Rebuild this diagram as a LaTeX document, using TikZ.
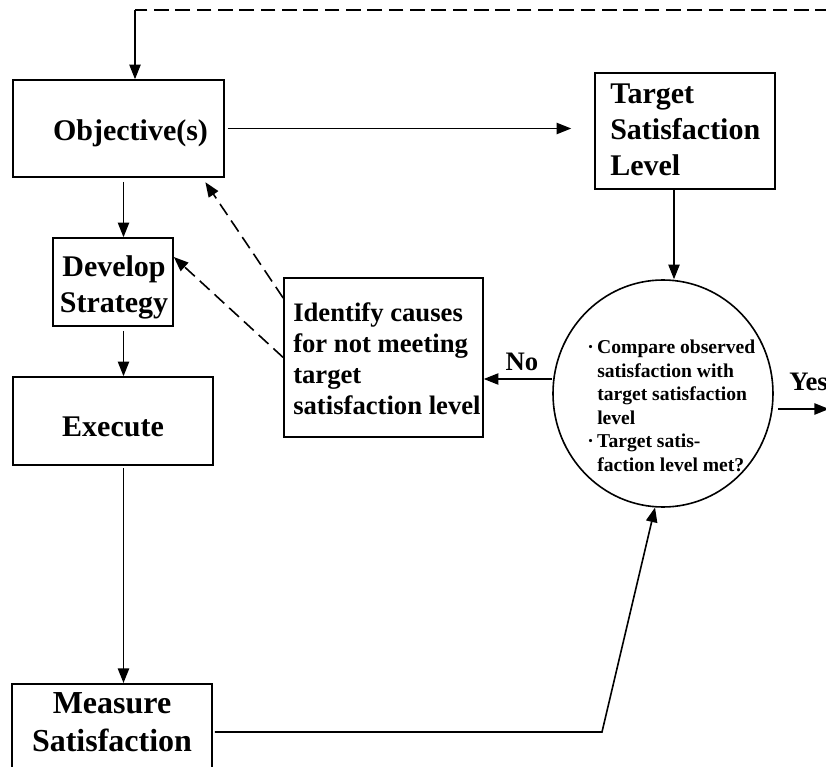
\documentclass[tikz,border=0pt]{standalone}
\usepackage{fontspec}
\setmainfont{Liberation Serif}
\usetikzlibrary{arrows.meta,shapes.geometric}
\begin{document}
\begin{tikzpicture}[x=0.75pt,y=-0.75pt,
  box/.style={draw, line width=1.2pt, rectangle, inner sep=0pt},
  txt/.style={inner sep=0pt, font=\bfseries\fontsize{22.5}{27}\selectfont},
  idtxt/.style={inner sep=0pt, align=left, font=\bfseries\fontsize{20}{23.3}\selectfont},
  ctxt/.style={inner sep=0pt, align=left, font=\bfseries\fontsize{14.7}{17.6}\selectfont},
  lbl/.style={inner sep=0pt, font=\bfseries\fontsize{20}{23}\selectfont},
  arr/.style={line width=1.2pt, -{Triangle[length=11pt,width=8.5pt]}},
  darr/.style={arr, dash pattern=on 10pt off 5pt},
  ln/.style={line width=1.2pt}
]
\useasboundingbox (0,0) rectangle (826,767);
\clip (0,0) rectangle (826,767);

% boxes
\node[box, minimum width=158.25pt, minimum height=72.75pt] (obj) at (118.5,128.5) {};
\node[txt] (objT) at (130.5,133) {Objective(s)};
\node[box, minimum width=135pt, minimum height=87pt] (tgt) at (685,131) {};
\node[txt, align=left, anchor=west] (tgtT) at (610,130) {Target\\Satisfaction\\Level};
\node[box, minimum width=90pt, minimum height=66pt] (dev) at (113,282) {};
\node[txt, align=center] (devT) at (114,287) {Develop\\Strategy};
\node[box, minimum width=150pt, minimum height=66pt] (exe) at (113,421) {};
\node[txt] (exeT) at (113,427) {Execute};
\node[box, minimum width=150pt, minimum height=97.5pt, anchor=north] (meas) at (112,683) {};
\node[txt, align=center, font=\bfseries\fontsize{24}{28.5}\selectfont] (measT) at (112,722) {Measure\\Satisfaction};
\node[box, minimum width=149.25pt, minimum height=119.25pt] (ident) at (383.5,357.5) {};
\node[idtxt, anchor=west] (identT) at (293,359) {Identify causes\\for not meeting\\target\\satisfaction level};
\node[draw, line width=1.2pt, ellipse, inner sep=0pt, minimum width=165pt, minimum height=170.25pt] (circ) at (663,393.5) {};
\node[ctxt, anchor=west] (circT) at (587,406) {\makebox[7.5pt][l]{·}Compare observed\\\hspace*{7.5pt}satisfaction with\\\hspace*{7.5pt}target satisfaction\\\hspace*{7.5pt}level\\\makebox[7.5pt][l]{·}Target satis-\\\hspace*{7.5pt}faction level met?};
\node[lbl] (no) at (522,362) {No};
\node[lbl, anchor=west] (yes) at (789,382) {Yes};

% helper coordinates
\coordinate (colL) at (123.5,0);
\coordinate (colR) at (674,0);
\coordinate (fbL) at (135,10);
\coordinate (fbR) at (830,10);
\coordinate (rowNo) at (0,379);
\coordinate (rowYes) at (0,409);
\coordinate (yesEnd) at (829,409);
\coordinate (rowM) at (0,732);
\coordinate (bend) at (602,732);
\coordinate (dA) at (0,298);

% connectors
\draw[ln, dash pattern=on 11pt off 5pt] (fbR) -- (fbL);
\draw[arr] (fbL) -- (fbL |- obj.north);
\draw[arr, shorten <=2.25pt, shorten >=17.25pt] (obj.east) -- (obj.east -| tgt.west);
\draw[arr, shorten <=3pt] (obj.south -| colL) -- (dev.north -| colL);
\draw[arr, shorten <=3pt] (dev.south -| colL) -- (exe.north -| colL);
\draw[arr, shorten <=2pt] (exe.south -| colL) -- (meas.north -| colL);
\draw[arr] (tgt.south -| colR) -- (circ.north -| colR);
\draw[arr] (circ.west |- rowNo) -- (ident.east |- rowNo);
\draw[arr, shorten <=3pt] (circ.east |- rowYes) -- (yesEnd);
\draw[arr, shorten <=1.5pt] (meas.east |- rowM) -- (bend) -- (circ.266);
\draw[darr, shorten >=4pt] (ident.west |- dA) -- ([xshift=-16.8pt]obj.south east);
\draw[darr] (ident.west) -- ([yshift=18.75pt]dev.east);
\end{tikzpicture}
\end{document}
